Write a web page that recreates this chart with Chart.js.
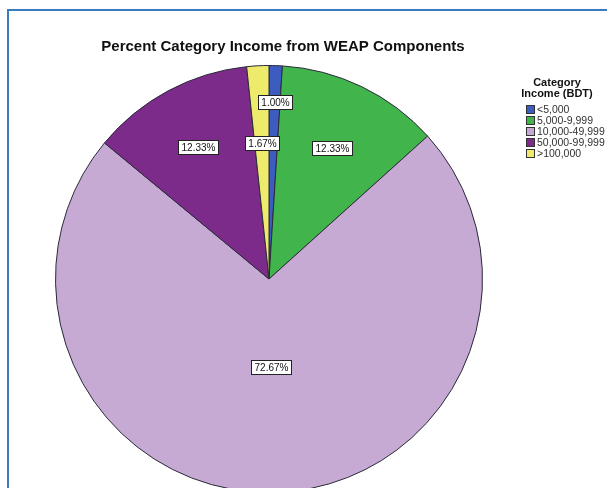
<!DOCTYPE html>
<html>
<head>
<meta charset="utf-8">
<script src="https://cdn.jsdelivr.net/npm/chart.js@4.4.1/dist/chart.umd.min.js"></script>
<style>
  html, body { margin: 0; padding: 0; background: #fff; overflow: hidden; }
  #frame {
    position: absolute; left: 7px; top: 9px; width: 640px; height: 520px;
    border-left: 2px solid #3b7cc0; border-top: 2px solid #3b7cc0;
  }
  #wrap { position: absolute; left: 0; top: 0; width: 607px; height: 500px; }
</style>
</head>
<body>
<div id="frame"></div>
<div id="wrap"><canvas id="myChart"></canvas></div>
<script>
const title = "Percent Category Income from WEAP Components";
const legendTitle = ["Category", "Income (BDT)"];
const categories = ["<5,000", "5,000-9,999", "10,000-49,999", "50,000-99,999", ">100,000"];
const percents = [1.00, 12.33, 72.67, 12.33, 1.67];
const sliceColors = ["#3d5cc0", "#41b54b", "#c6aad3", "#7c2b8a", "#eeea6c"];

// how far out (fraction of radius) each value label sits
const labelRadius = [0.83, 0.68, 0.41, 0.70, 0.64];

const decorations = {
  id: "decorations",
  afterDraw(chart) {
    const ctx = chart.ctx;
    ctx.save();

    // title
    ctx.fillStyle = "#111";
    ctx.font = "bold 15px 'Liberation Sans', Arial, sans-serif";
    ctx.textAlign = "center";
    ctx.textBaseline = "middle";
    ctx.fillText(title, 283, 47);

    // value labels in boxes
    const meta = chart.getDatasetMeta(0);
    ctx.font = "10px 'Liberation Sans', Arial, sans-serif";
    meta.data.forEach((arc, i) => {
      const mid = (arc.startAngle + arc.endAngle) / 2;
      const r = arc.outerRadius * labelRadius[i];
      const x = arc.x + Math.cos(mid) * r;
      const y = arc.y + Math.sin(mid) * r;
      const text = percents[i].toFixed(2) + "%";
      const w = Math.round(ctx.measureText(text).width + 6);
      const h = 14;
      const bx = Math.round(x - w / 2) + 0.5;
      const by = Math.round(y - h / 2) + 0.5;
      ctx.fillStyle = "#fff";
      ctx.fillRect(bx, by, w, h);
      ctx.strokeStyle = "#222";
      ctx.lineWidth = 1;
      ctx.strokeRect(bx, by, w, h);
      ctx.fillStyle = "#111";
      ctx.textAlign = "center";
      ctx.fillText(text, bx + w / 2, by + h / 2 + 0.5);
    });

    // legend
    ctx.fillStyle = "#111";
    ctx.font = "bold 11px 'Liberation Sans', Arial, sans-serif";
    ctx.textAlign = "center";
    ctx.fillText(legendTitle[0], 557, 83);
    ctx.fillText(legendTitle[1], 557, 94);
    ctx.font = "10.5px 'Liberation Sans', Arial, sans-serif";
    ctx.textAlign = "left";
    categories.forEach((c, i) => {
      const y = 110 + i * 11;
      ctx.fillStyle = sliceColors[i];
      ctx.fillRect(526.5, y - 4.5, 8, 8);
      ctx.strokeStyle = "#333";
      ctx.strokeRect(526.5, y - 4.5, 8, 8);
      ctx.fillStyle = "#333";
      ctx.fillText(c, 537, y);
    });

    ctx.restore();
  }
};

new Chart(document.getElementById("myChart"), {
  type: "pie",
  data: {
    labels: categories,
    datasets: [{
      data: percents,
      backgroundColor: sliceColors,
      borderColor: "#2a2a3a",
      borderWidth: 1
    }]
  },
  options: {
    responsive: true,
    maintainAspectRatio: false,
    animation: false,
    layout: { padding: { left: 55, right: 124, top: 65, bottom: 7 } },
    plugins: {
      legend: { display: false },
      tooltip: { enabled: false },
      title: { display: false }
    }
  },
  plugins: [decorations]
});
</script>
</body>
</html>
